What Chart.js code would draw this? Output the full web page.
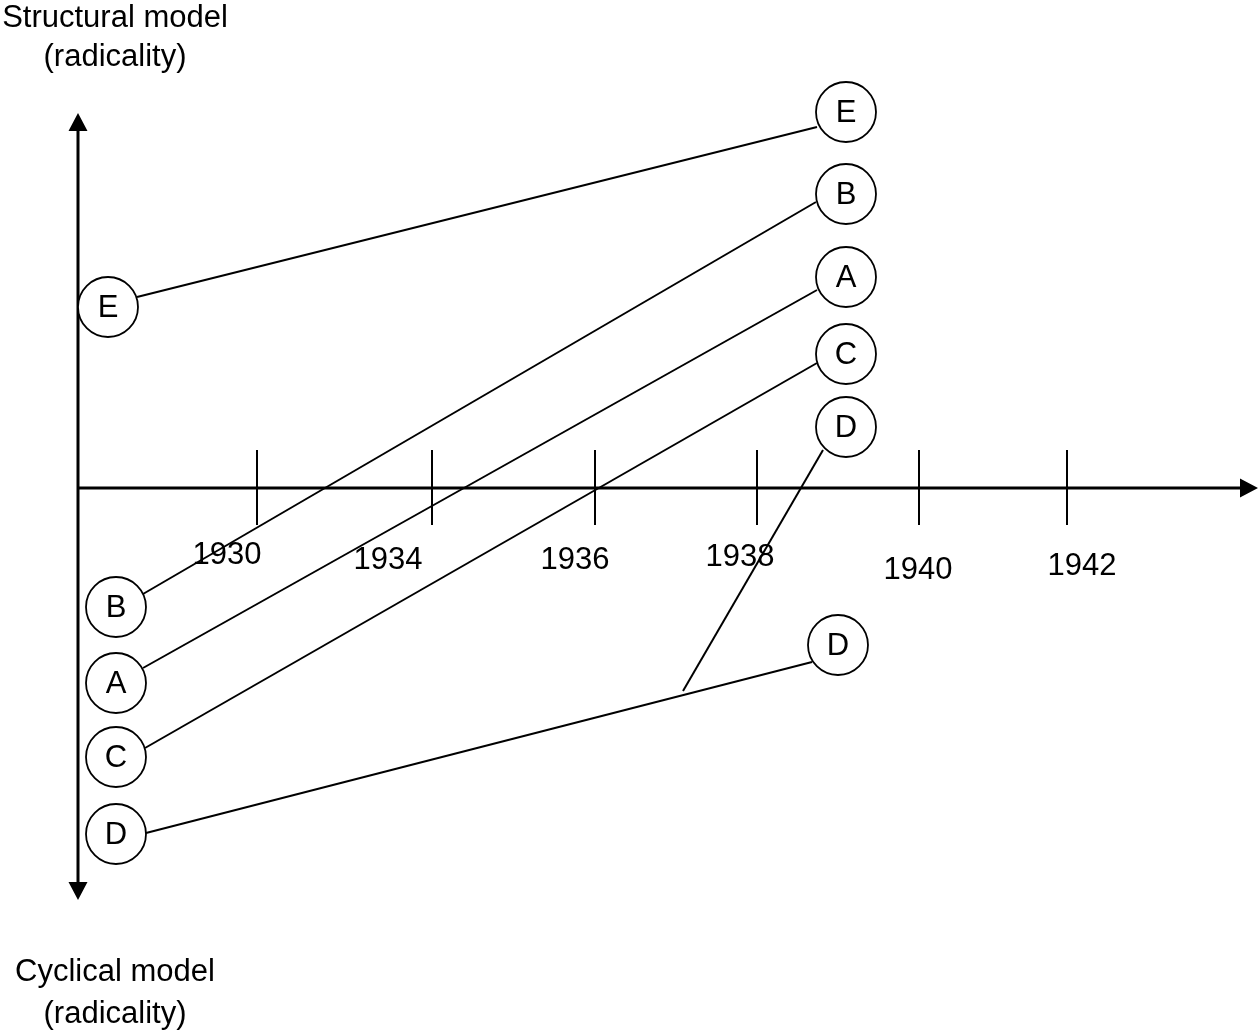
<!DOCTYPE html>
<html>
<head>
<meta charset="utf-8">
<script src="https://cdn.jsdelivr.net/npm/chart.js@4/dist/chart.umd.min.js"></script>
<style>
  html, body { margin: 0; padding: 0; background: #fff; }
  #wrap { width: 1259px; height: 1031px; }
</style>
</head>
<body>
<div id="wrap"><canvas id="c" width="1259" height="1031"></canvas></div>
<script>
// ---- Diagram data (abstract units: origin at axis crossing) ----
const circleLabels = ['E', 'B', 'A', 'C', 'D', 'E', 'B', 'A', 'C', 'D', 'D'];
const circleX = [3.0, 3.8, 3.8, 3.8, 3.8, 76.8, 76.8, 76.8, 76.8, 76.8, 76.0];
const circleY = [18.1, -11.9, -19.5, -26.9, -34.6, 37.6, 29.4, 21.1, 13.4, 6.1, -15.7];

const segmentNames = ['E', 'B', 'A', 'C', 'D', 'D2'];
const segStartX = [5.9, 6.5, 6.5, 6.7, 6.8, 74.5];
const segStartY = [19.1, -10.6, -18.0, -26.0, -34.5, 3.8];
const segEndX   = [73.9, 73.8, 73.9, 73.9, 73.4, 60.5];
const segEndY   = [36.1, 28.6, 19.8, 12.5, -17.4, -20.3];

const tickLabels = ['1930', '1934', '1936', '1938', '1940', '1942'];
const tickX = [17.9, 35.4, 51.7, 67.9, 84.1, 98.9];
const tickTop = 3.8;
const tickBottom = -3.7;
const tickLabelX = [14.9, 31.0, 49.7, 66.2, 84.0, 100.4];
const tickLabelY = [-6.7, -7.2, -7.2, -6.9, -8.2, -7.8];

const axisXEnd = 118.0;
const axisYTop = 37.5;
const axisYBottom = -41.2;

const titleTop = ['Structural model', '(radicality)'];
const titleTopY = [47.0, 43.1];
const titleBottom = ['Cyclical model', '(radicality)'];
const titleBottomY = [-48.4, -52.6];
const titleX = 3.7;

const FONT = '31px "Liberation Sans", Arial, sans-serif';

// ---- datasets ----
const datasets = [];
datasets.push({
  type: 'scatter',
  label: 'circles',
  data: circleX.map((x, i) => ({ x: x, y: circleY[i] })),
  pointRadius: 30,
  pointHoverRadius: 30,
  pointBackgroundColor: '#ffffff',
  pointBorderColor: '#000000',
  pointBorderWidth: 1.8,
  clip: false,
  order: 0
});
segmentNames.forEach((n, i) => {
  datasets.push({
    type: 'line',
    label: n,
    data: [{ x: segStartX[i], y: segStartY[i] }, { x: segEndX[i], y: segEndY[i] }],
    borderColor: '#000000',
    borderWidth: 2,
    pointRadius: 0,
    fill: false,
    tension: 0,
    order: 1
  });
});

const diagramPlugin = {
  id: 'diagram',
  beforeDatasetsDraw(chart) {
    const ctx = chart.ctx;
    const xs = chart.scales.x, ys = chart.scales.y;
    const px = v => xs.getPixelForValue(v);
    const py = v => ys.getPixelForValue(v);
    ctx.save();
    ctx.strokeStyle = '#000';
    ctx.fillStyle = '#000';
    // axes
    ctx.lineWidth = 3;
    const x0 = px(0), y0 = py(0);
    const xe = px(axisXEnd), yt = py(axisYTop), yb = py(axisYBottom);
    const ah = 18, aw = 9.5;
    ctx.beginPath();
    ctx.moveTo(x0, y0); ctx.lineTo(xe - ah, y0);
    ctx.moveTo(x0, yt + ah); ctx.lineTo(x0, yb - ah);
    ctx.stroke();
    ctx.beginPath();
    ctx.moveTo(xe, y0); ctx.lineTo(xe - ah, y0 - aw); ctx.lineTo(xe - ah, y0 + aw); ctx.closePath();
    ctx.moveTo(x0, yt); ctx.lineTo(x0 - aw, yt + ah); ctx.lineTo(x0 + aw, yt + ah); ctx.closePath();
    ctx.moveTo(x0, yb); ctx.lineTo(x0 - aw, yb - ah); ctx.lineTo(x0 + aw, yb - ah); ctx.closePath();
    ctx.fill();
    // ticks
    ctx.lineWidth = 2;
    ctx.beginPath();
    tickX.forEach(t => {
      ctx.moveTo(px(t), py(tickTop));
      ctx.lineTo(px(t), py(tickBottom));
    });
    ctx.stroke();
    // tick labels
    ctx.font = FONT;
    ctx.textAlign = 'center';
    ctx.textBaseline = 'middle';
    tickLabels.forEach((l, i) => ctx.fillText(l, px(tickLabelX[i]), py(tickLabelY[i])));
    // titles
    titleTop.forEach((t, i) => ctx.fillText(t, px(titleX), py(titleTopY[i])));
    titleBottom.forEach((t, i) => ctx.fillText(t, px(titleX), py(titleBottomY[i])));
    ctx.restore();
  },
  afterDatasetsDraw(chart) {
    const ctx = chart.ctx;
    const xs = chart.scales.x, ys = chart.scales.y;
    ctx.save();
    ctx.fillStyle = '#000';
    ctx.font = FONT;
    ctx.textAlign = 'center';
    ctx.textBaseline = 'middle';
    circleLabels.forEach((l, i) => {
      ctx.fillText(l, xs.getPixelForValue(circleX[i]), ys.getPixelForValue(circleY[i]) + 1);
    });
    ctx.restore();
  }
};

new Chart(document.getElementById('c'), {
  type: 'scatter',
  data: { datasets: datasets },
  options: {
    responsive: false,
    animation: false,
    layout: { padding: 0, autoPadding: false },
    plugins: { legend: { display: false }, tooltip: { enabled: false } },
    events: [],
    scales: {
      x: { type: 'linear', display: false, min: -7.8, max: 118.1 },
      y: { type: 'linear', display: false, min: -54.3, max: 48.8 }
    }
  },
  plugins: [diagramPlugin]
});
</script>
</body>
</html>
